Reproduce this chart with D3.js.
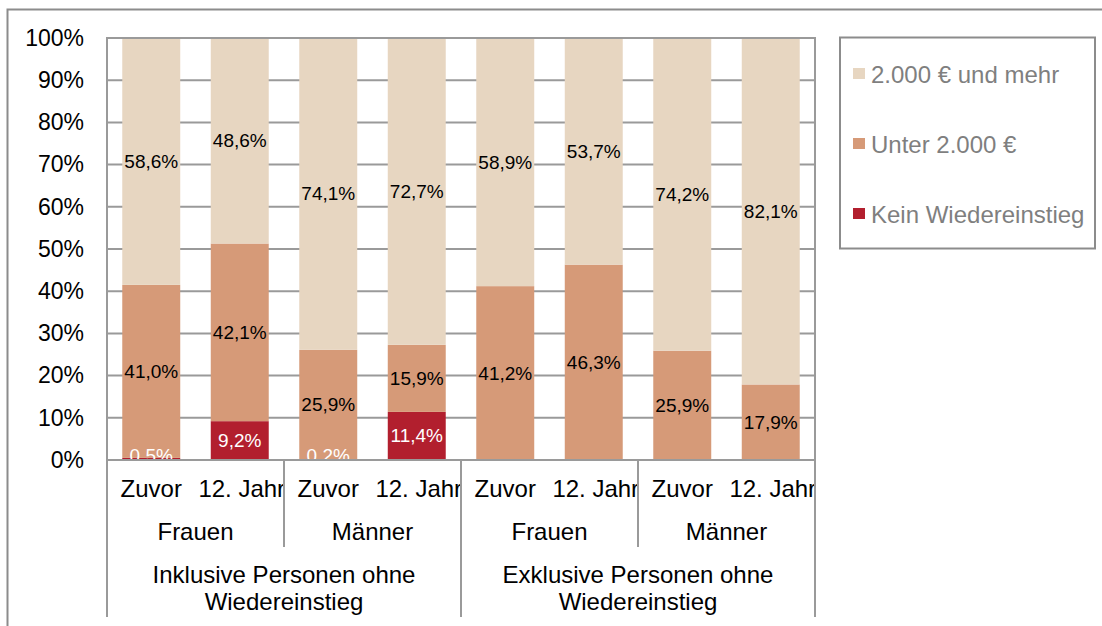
<!DOCTYPE html>
<html>
<head>
<meta charset="utf-8">
<script src="https://cdn.jsdelivr.net/npm/d3@7"></script>
<style>
  body { margin: 0; background: #fff; }
  svg { font-family: "Liberation Sans", Arial, sans-serif; }
</style>
</head>
<body>
<div id="chart"></div>
<script>
// data
const groups = ["Inklusive Personen ohne|Wiedereinstieg", "Exklusive Personen ohne|Wiedereinstieg"]
const sexes = ["Frauen", "Männer"]
const times = ["Zuvor", "12. Jahr"]
const series = ["Kein Wiedereinstieg", "Unter 2.000 €", "2.000 € und mehr"]
const kein = [0.5, 9.2, 0.2, 11.4, 0, 0, 0, 0]
const unter = [41.0, 42.1, 25.9, 15.9, 41.2, 46.3, 25.9, 17.9]
const mehr = [58.6, 48.6, 74.1, 72.7, 58.9, 53.7, 74.2, 82.1]
const yTicks = [0, 10, 20, 30, 40, 50, 60, 70, 80, 90, 100]

const colors = {"Kein Wiedereinstieg": "#b21f2e", "Unter 2.000 €": "#d69a78", "2.000 € und mehr": "#e7d6c1"}
const labelColors = {"Kein Wiedereinstieg": "#fff", "Unter 2.000 €": "#000", "2.000 € und mehr": "#000"}

const width = 1102, height = 626
const plot = {left: 107, right: 815, top: 38, bottom: 460}

// build rows: one per bar
let rows = []
let i = 0
groups.forEach(g => {
    sexes.forEach(s => {
        times.forEach(t => {
            rows.push({key: i, group: g, sex: s, time: t,
                "Kein Wiedereinstieg": kein[i], "Unter 2.000 €": unter[i], "2.000 € und mehr": mehr[i]})
            i++
        })
    })
})

const svg = d3.select('#chart').append('svg')
    .attr('width', width)
    .attr('height', height)

// outer chart frame
svg.append('rect')
    .attr('x', 7.5).attr('y', 9.5)
    .attr('width', 1200).attr('height', 800)
    .attr('fill', 'none').attr('stroke', '#8c8c8c').attr('stroke-width', 2)

const x = d3.scaleBand()
    .domain(rows.map(d => d.key))
    .range([plot.left, plot.right])
    .paddingInner(0.345)
    .paddingOuter(0.1725)

const y = d3.scaleLinear()
    .domain([0, 100])
    .range([plot.bottom, plot.top])
    .clamp(true)

// gridlines
svg.append('g')
    .selectAll('line')
    .data(yTicks)
    .join('line')
    .attr('x1', plot.left).attr('x2', plot.right)
    .attr('y1', d => y(d)).attr('y2', d => y(d))
    .attr('stroke', '#9a9a9a').attr('stroke-width', 2)

// y axis labels
const yAxis = svg.append('g')
    .attr('transform', `translate(${plot.left},0)`)
    .call(d3.axisLeft(y).tickValues(yTicks).tickFormat(d => d + '%').tickSize(0).tickPadding(23))
yAxis.select('.domain').remove()
yAxis.selectAll('text').attr('font-size', 23).attr('fill', '#000').attr('font-family', '"Liberation Sans", Arial, sans-serif')

// stacked bars
const stack = d3.stack().keys(series)
const stacked = stack(rows)

svg.append('clipPath').attr('id', 'plotclip')
    .append('rect')
    .attr('x', plot.left).attr('y', plot.top)
    .attr('width', plot.right - plot.left).attr('height', plot.bottom - plot.top)

const barsG = svg.append('g').attr('clip-path', 'url(#plotclip)')

stacked.forEach(layer => {
    barsG.append('g')
        .attr('fill', colors[layer.key])
        .selectAll('rect')
        .data(layer.filter(d => d[1] - d[0] > 0))
        .join('rect')
        .attr('x', d => x(d.data.key))
        .attr('width', x.bandwidth())
        .attr('y', d => y(d[1]))
        .attr('height', d => y(d[0]) - y(d[1]))
})

// plot area border
svg.append('rect')
    .attr('x', plot.left).attr('y', plot.top)
    .attr('width', plot.right - plot.left).attr('height', plot.bottom - plot.top)
    .attr('fill', 'none').attr('stroke', '#9a9a9a').attr('stroke-width', 2)

// data labels
const fmt = v => v.toFixed(1).replace('.', ',') + '%'
stacked.forEach(layer => {
    barsG.append('g')
        .selectAll('text')
        .data(layer.filter(d => d.data[layer.key] > 0))
        .join('text')
        .attr('x', d => x(d.data.key) + x.bandwidth() / 2)
        .attr('y', d => Math.min((y(d[0]) + y(d[1])) / 2, plot.bottom - 5))
        .attr('text-anchor', 'middle')
        .attr('dominant-baseline', 'central')
        .attr('font-size', 19)
        .attr('fill', labelColors[layer.key])
        .text(d => fmt(d.data[layer.key]))
})

// category axis (three levels)
const cat = svg.append('g')
const step = x.step()
const sexCells = d3.range(groups.length * sexes.length)

// clip time labels to their sex cell
sexCells.forEach(c => {
    svg.append('clipPath').attr('id', 'cell' + c)
        .append('rect')
        .attr('x', plot.left + step * c * 2).attr('y', plot.bottom)
        .attr('width', step * 2).attr('height', 60)
})

cat.selectAll('text.time')
    .data(rows)
    .join('text')
    .attr('class', 'time')
    .attr('clip-path', d => `url(#cell${Math.floor(d.key / 2)})`)
    .attr('x', d => x(d.key) + x.bandwidth() / 2 + (d.key % 2 === 1 ? 2 : 0))
    .attr('y', 497)
    .attr('text-anchor', 'middle')
    .attr('font-size', 24)
    .text(d => d.time)

// level 2: sex
cat.selectAll('text.sex')
    .data(sexCells)
    .join('text')
    .attr('class', 'sex')
    .attr('x', d => plot.left + step * (d * 2 + 1))
    .attr('y', 540)
    .attr('text-anchor', 'middle')
    .attr('font-size', 24)
    .text(d => sexes[d % 2])

cat.selectAll('line.sex')
    .data(d3.range(sexCells.length + 1))
    .join('line')
    .attr('class', 'sex')
    .attr('x1', d => plot.left + step * d * 2).attr('x2', d => plot.left + step * d * 2)
    .attr('y1', plot.bottom).attr('y2', d => d % 2 === 0 ? 617 : 547)
    .attr('stroke', '#9a9a9a').attr('stroke-width', 2)

// level 3: groups
groups.forEach((g, gi) => {
    const cx = plot.left + step * (gi * 4 + 2)
    const t = cat.append('text')
        .attr('x', cx).attr('y', 583)
        .attr('text-anchor', 'middle')
        .attr('font-size', 24)
    g.split('|').forEach((line, li) => {
        t.append('tspan').attr('x', cx).attr('dy', li === 0 ? 0 : 27).text(line)
    })
})

// legend
const legend = svg.append('g')
legend.append('rect')
    .attr('x', 840).attr('y', 37.5)
    .attr('width', 255).attr('height', 211)
    .attr('fill', '#fff').attr('stroke', '#8c8c8c').attr('stroke-width', 2)

const legendItems = series.slice().reverse()
legend.selectAll('g.item')
    .data(legendItems)
    .join('g')
    .attr('class', 'item')
    .attr('transform', (d, k) => `translate(853,${74 + k * 70})`)
    .each(function(d) {
        const gI = d3.select(this)
        gI.append('rect').attr('x', 0).attr('y', -6).attr('width', 12).attr('height', 11).attr('fill', colors[d])
        gI.append('text').attr('x', 18).attr('y', 0)
            .attr('dominant-baseline', 'central')
            .attr('font-size', 24).attr('fill', '#7f7f7f')
            .text(d)
    })
</script>
</body>
</html>
